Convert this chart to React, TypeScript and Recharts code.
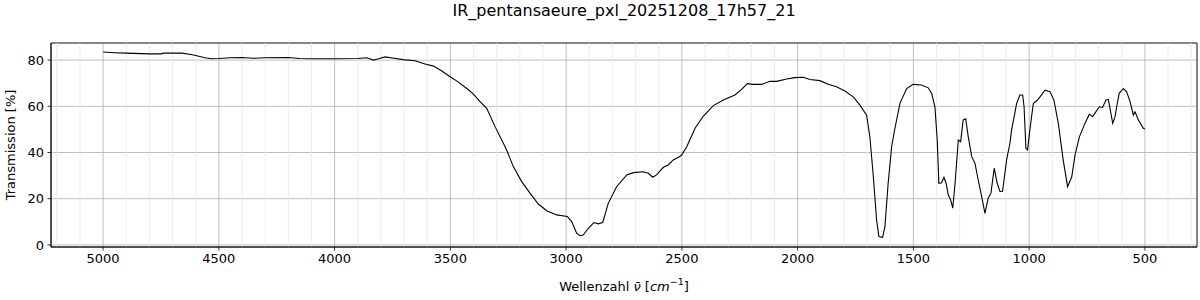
import { LineChart, Line, XAxis, YAxis, CartesianGrid, ReferenceLine, ReferenceArea } from 'recharts';

const FONT = '"DejaVu Sans", sans-serif';
const TITLE = 'IR_pentansaeure_pxl_20251208_17h57_21';

const WAVENUMBERS = [
  5000, 4950, 4900, 4800, 4750, 4740, 4660, 4620, 4600, 4560, 4530, 4500, 4450, 4400, 4350, 4300, 4200, 4150, 4100, 4000, 3900,
  3861, 3845, 3833, 3810, 3782, 3750, 3704, 3653, 3609, 3573, 3540, 3501, 3470, 3429, 3400, 3372, 3343, 3307, 3271, 3257,
  3228, 3192, 3156, 3120, 3084, 3041, 2995, 2976, 2954, 2940, 2926, 2904, 2880, 2861, 2842, 2818, 2782, 2738, 2710, 2667,
  2645, 2626, 2609, 2580, 2559, 2537, 2511, 2501, 2479, 2443, 2407, 2364, 2321, 2271, 2242, 2217, 2192, 2155, 2119, 2091,
  2047, 2012, 1976, 1947, 1904, 1868, 1832, 1796, 1760, 1731, 1702, 1688, 1673, 1659, 1649, 1633, 1623, 1609, 1594, 1580,
  1558, 1529, 1501, 1465, 1436, 1421, 1407, 1397, 1390, 1378, 1368, 1359, 1349, 1339, 1330, 1320, 1306, 1296, 1285, 1274,
  1263, 1248, 1234, 1220, 1205, 1191, 1177, 1165, 1151, 1138, 1126, 1115, 1097, 1083, 1076, 1054, 1040, 1028, 1022, 1014,
  1007, 997, 982, 968, 953, 932, 910, 893, 874, 853, 834, 816, 802, 783, 759, 740, 726, 712, 697, 683,
  668, 658, 648, 639, 629, 622, 611, 593, 579, 564, 550, 543, 528, 507, 500,
];

// Transmission in %
const TRANSMISSION = [
  83.5, 83.2, 83.0, 82.7, 82.7, 83.0, 83.0, 82.4, 82.0, 81.0, 80.6, 80.7, 81.0, 81.1, 80.8, 81.0, 81.1, 80.7, 80.6, 80.6, 80.7,
  81.0, 80.5, 80.0, 80.6, 81.4, 80.9, 80.2, 79.7, 78.3, 77.4, 75.5, 72.8, 70.8, 67.7, 65.3, 62.0, 59.1, 51.2, 44.0, 41.1,
  33.9, 27.4, 22.4, 17.7, 14.8, 13.0, 12.3, 10.1, 5.0, 4.0, 4.3, 7.2, 9.7, 9.1, 9.7, 18.0, 25.2, 30.3, 31.3, 31.7,
  31.0, 29.3, 30.3, 33.6, 34.6, 36.8, 38.2, 38.9, 42.5, 50.5, 55.8, 60.3, 62.7, 64.9, 67.3, 69.8, 69.5, 69.5, 70.8, 70.8,
  71.8, 72.4, 72.6, 71.6, 71.1, 69.5, 68.5, 66.6, 64.1, 60.5, 56.2, 46.8, 29.5, 10.8, 3.6, 3.3, 7.9, 26.7, 42.5, 50.4,
  61.3, 67.7, 69.5, 69.2, 68.0, 65.6, 59.8, 45.4, 26.7, 26.9, 29.3, 26.7, 21.6, 19.5, 15.9, 26.7, 45.4, 44.7, 54.1, 54.6,
  46.8, 38.2, 35.3, 28.1, 20.9, 13.7, 20.2, 22.4, 33.2, 26.7, 23.1, 23.1, 37.0, 44.0, 49.7, 61.3, 64.9, 64.9, 59.8, 41.8,
  41.1, 49.7, 61.3, 62.3, 64.1, 67.0, 66.3, 62.7, 52.6, 36.8, 25.2, 29.5, 38.9, 46.8, 52.6, 56.6, 55.5, 57.6, 59.8, 59.5,
  62.7, 63.0, 57.6, 52.6, 55.5, 59.8, 65.6, 67.7, 66.3, 62.0, 56.2, 57.6, 54.1, 50.5, 50.2,
];

const X_TICKS = [5000, 4500, 4000, 3500, 3000, 2500, 2000, 1500, 1000, 500];
const Y_TICKS = [0, 20, 40, 60, 80];
const X_DOMAIN = [275, 5225];
const Y_DOMAIN = [-0.9, 87.4];

// Nebenteilung alle 100 cm^-1
const MINOR_X: number[] = [];
for (let v = 300; v <= 5200; v += 100) {
  if (v % 500 !== 0) MINOR_X.push(v);
}

export default function App() {
  const data = WAVENUMBERS.map((w, i) => ({ w, t: TRANSMISSION[i] }));

  return (
    <div style={{ position: 'absolute', left: 0, top: 0, width: 1200, height: 300, fontFamily: FONT, background: '#fff' }}>
      <div style={{ position: 'absolute', left: 51, width: 1146, top: 1, textAlign: 'center', fontSize: 16, color: '#000' }}>
        {TITLE}
      </div>
      <LineChart width={1200} height={300} data={data} margin={{ top: 43, right: 3, bottom: 0, left: 0 }}>
        <CartesianGrid stroke="#b0b0b0" strokeWidth={0.8} />
        {MINOR_X.map((v) => (
          <ReferenceLine key={v} x={v} stroke="#e8e8e8" strokeWidth={0.8} />
        ))}
        <XAxis
          xAxisId="minor"
          type="number"
          dataKey="w"
          domain={X_DOMAIN}
          reversed
          allowDataOverflow
          ticks={MINOR_X}
          tick={false}
          tickSize={2}
          tickLine={{ stroke: '#000', strokeWidth: 0.6 }}
          axisLine={false}
          height={0}
        />
        <XAxis
          type="number"
          dataKey="w"
          domain={X_DOMAIN}
          reversed
          allowDataOverflow
          ticks={X_TICKS}
          interval={0}
          tickSize={3.5}
          tickMargin={3.5}
          height={53}
          tick={{ fill: '#000', fontSize: 13, fontFamily: FONT }}
          tickLine={{ stroke: '#000', strokeWidth: 0.8 }}
          axisLine={{ stroke: '#000', strokeWidth: 0.8 }}
          label={{
            content: () => (
              <text x={624} y={291} textAnchor="middle" fontSize={13} fontFamily={FONT} fill="#000">
                Wellenzahl <tspan fontStyle="italic">ν̄</tspan> [<tspan fontStyle="italic">cm</tspan>
                <tspan dy={-6} fontSize={9.5}>−1</tspan>
                <tspan dy={6}>]</tspan>
              </text>
            ),
          }}
        />
        <YAxis
          type="number"
          domain={Y_DOMAIN}
          allowDataOverflow
          ticks={Y_TICKS}
          interval={0}
          width={51}
          tickSize={3.5}
          tickMargin={3.5}
          tick={{ fill: '#000', fontSize: 13, fontFamily: FONT }}
          tickLine={{ stroke: '#000', strokeWidth: 0.8 }}
          axisLine={{ stroke: '#000', strokeWidth: 0.8 }}
          label={{
            content: () => (
              <text
                x={10}
                y={145}
                transform="rotate(-90 10 145)"
                textAnchor="middle"
                dominantBaseline="central"
                fontSize={13}
                fontFamily={FONT}
                fill="#000"
              >
                Transmission [%]
              </text>
            ),
          }}
        />
        <ReferenceArea
          x1={X_DOMAIN[0]}
          x2={X_DOMAIN[1]}
          y1={Y_DOMAIN[0]}
          y2={Y_DOMAIN[1]}
          fill="none"
          stroke="#000"
          strokeWidth={0.8}
          ifOverflow="visible"
        />
        <Line
          type="linear"
          dataKey="t"
          stroke="#000"
          strokeWidth={1.1}
          dot={false}
          isAnimationActive={false}
        />
      </LineChart>
    </div>
  );
}
